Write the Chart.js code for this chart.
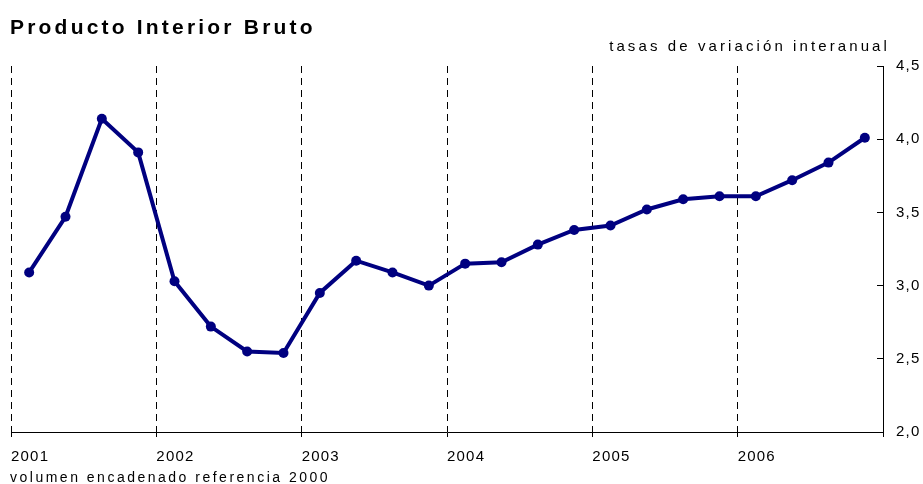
<!DOCTYPE html>
<html>
<head>
<meta charset="utf-8">
<script src="https://cdn.jsdelivr.net/npm/chart.js@4"></script>
<style>
    body { margin: 0; background: #fff; }
    #wrap { position: relative; width: 923px; height: 484px; font-family: "Liberation Sans", Arial, sans-serif; }
    #title { position: absolute; left: 10px; top: 15px; font-size: 21px; font-weight: bold; letter-spacing: 3.2px; color: #000; }
    #units { position: absolute; right: 33px; top: 37px; font-size: 15px; letter-spacing: 3.1px; color: #000; }
    #source { position: absolute; left: 10px; top: 469px; font-size: 14px; letter-spacing: 2.5px; color: #000; }
    canvas { position: absolute; left: 0; top: 0; }
</style>
</head>
<body>
<div id="wrap">
    <canvas id="pibChart" width="923" height="484"></canvas>
    <div id="title">Producto Interior Bruto</div>
    <div id="units">tasas de variación interanual</div>
    <div id="source">volumen encadenado referencia 2000</div>
</div>
<script>
// años del eje x (un tick cada 4 trimestres)
const years = ["2001", "2002", "2003", "2004", "2005", "2006"];
// trimestres 2001T1 .. 2006T4
const quarters = [
    "2001T1", "2001T2", "2001T3", "2001T4",
    "2002T1", "2002T2", "2002T3", "2002T4",
    "2003T1", "2003T2", "2003T3", "2003T4",
    "2004T1", "2004T2", "2004T3", "2004T4",
    "2005T1", "2005T2", "2005T3", "2005T4",
    "2006T1", "2006T2", "2006T3", "2006T4"
];
// PIB, tasas de variación interanual (%)
const gdpGrowth = [
    3.09, 3.47, 4.14, 3.91,
    3.03, 2.72, 2.55, 2.54,
    2.95, 3.17, 3.09, 3.00,
    3.15, 3.16, 3.28, 3.38,
    3.41, 3.52, 3.59, 3.61,
    3.61, 3.72, 3.84, 4.01
];
const yTicks = [2.0, 2.5, 3.0, 3.5, 4.0, 4.5];

document.addEventListener("DOMContentLoaded", function () {
    const ctx = document.getElementById("pibChart").getContext("2d");

    // cada trimestre se pinta en el centro de su tramo
    const points = gdpGrowth.map((v, i) => ({ x: i + 0.5, y: v }));

    // espaciado de letras en las etiquetas de los ejes
    // (el canvas se redimensiona al iniciar y pierde el estado, por eso se pone antes de medir y de pintar)
    const spacing = {
        id: "spacing",
        beforeUpdate(chart) { chart.ctx.letterSpacing = "1.2px"; },
        beforeDraw(chart) { chart.ctx.letterSpacing = "1.2px"; }
    };

    new Chart(ctx, {
        type: "line",
        data: {
            datasets: [{
                label: "PIB",
                data: points,
                borderColor: "#000080",
                backgroundColor: "#000080",
                borderWidth: 4,
                pointRadius: 5,
                pointBackgroundColor: "#000080",
                pointBorderWidth: 0,
                tension: 0
            }]
        },
        options: {
            responsive: false,
            animation: false,
            layout: { padding: { top: 66, left: 8, right: 0, bottom: 0 } },
            plugins: {
                legend: { display: false },
                tooltip: { enabled: false }
            },
            scales: {
                x: {
                    type: "linear",
                    min: 0,
                    max: quarters.length,
                    afterBuildTicks: (scale) => {
                        scale.ticks = years.map((y, i) => ({ value: i * 4 })).concat([{ value: quarters.length }]);
                    },
                    afterFit: (scale) => { scale.height = 52; },
                    ticks: {
                        align: "start",
                        maxRotation: 0,
                        autoSkip: false,
                        padding: 11,
                        color: "#000",
                        font: { family: "Liberation Sans", size: 15 },
                        callback: (value) => years[value / 4] || ""
                    },
                    grid: {
                        color: "#000",
                        lineWidth: 1,
                        tickLength: 5,
                        tickColor: "#000"
                    },
                    border: { display: true, color: "#000", width: 1, dash: [7, 5] }
                },
                y: {
                    position: "right",
                    min: 2,
                    max: 4.5,
                    afterBuildTicks: (scale) => {
                        scale.ticks = yTicks.map((v) => ({ value: v }));
                    },
                    afterFit: (scale) => { scale.width = 40; },
                    ticks: {
                        padding: 19,
                        color: "#000",
                        font: { family: "Liberation Sans", size: 15 },
                        callback: (value) => value.toFixed(1).replace(".", ",")
                    },
                    grid: {
                        drawOnChartArea: false,
                        tickLength: -6,
                        tickColor: "#000",
                        lineWidth: 1
                    },
                    border: { display: true, color: "#000", width: 1 }
                }
            }
        },
        plugins: [spacing]
    });
});
</script>
</body>
</html>
